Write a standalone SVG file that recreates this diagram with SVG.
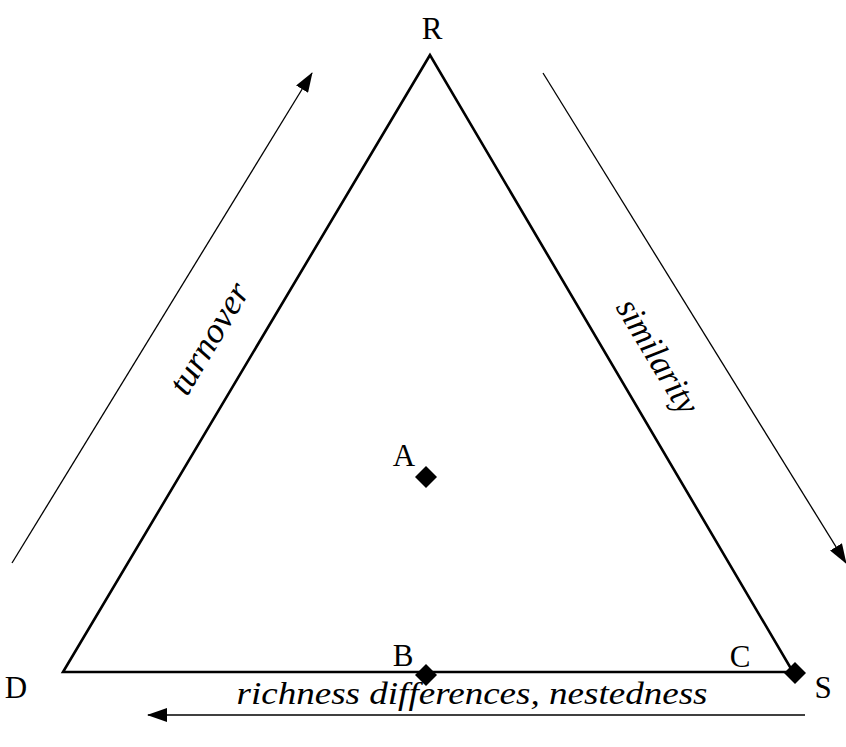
<svg xmlns="http://www.w3.org/2000/svg" width="846" height="747" viewBox="0 0 846 747">
<style>
.lbl{font-family:"Liberation Serif","Times New Roman",serif;font-size:31px;fill:#000}
.it{font-family:"Liberation Serif","Times New Roman",serif;font-size:35px;font-style:italic;fill:#000}
.arr{stroke:#000;stroke-width:1.3;fill:none;marker-end:url(#ah)}
.dia{fill:#000}
</style>
<defs>
<marker id="ah" viewBox="0 0 20 14" refX="19" refY="7" markerWidth="20" markerHeight="14" markerUnits="userSpaceOnUse" orient="auto">
<path d="M0,0 L20,7 L0,14 z" fill="#000"/>
</marker>
</defs>
<g id="triangle">
<path d="M430,55 L63,672 L793,672 Z" fill="none" stroke="#000" stroke-width="2.6" stroke-linejoin="miter"/>
</g>
<g id="connectors">
<line class="arr" x1="12" y1="563" x2="312" y2="73"/>
<line class="arr" x1="543" y1="73" x2="846" y2="563"/>
<line class="arr" x1="805" y1="715" x2="148" y2="715"/>
</g>
<g id="node-R"><text class="lbl" x="432" y="39" text-anchor="middle">R</text></g>
<g id="node-D"><text class="lbl" x="16" y="698" text-anchor="middle">D</text></g>
<g id="node-S"><text class="lbl" x="823" y="698" text-anchor="middle">S</text></g>
<g id="node-A">
<text class="lbl" x="404" y="466" text-anchor="middle">A</text>
<path class="dia" d="M426,466 L437,477 L426,488 L415,477 Z"/>
</g>
<g id="node-B">
<text class="lbl" x="403" y="666" text-anchor="middle">B</text>
<path class="dia" d="M426,664 L437,675 L426,686 L415,675 Z"/>
</g>
<g id="node-C">
<text class="lbl" x="740" y="667" text-anchor="middle">C</text>
<path class="dia" d="M795,662 L806,673 L795,684 L784,673 Z"/>
</g>
<g id="label-turnover">
<text class="it" transform="translate(212,340) rotate(-59)" text-anchor="middle" dominant-baseline="middle" textLength="124" lengthAdjust="spacingAndGlyphs">turnover</text>
</g>
<g id="label-similarity">
<text class="it" transform="translate(655,358) rotate(59)" text-anchor="middle" dominant-baseline="middle" textLength="128" lengthAdjust="spacingAndGlyphs">similarity</text>
</g>
<g id="label-richness">
<text class="it" x="472" y="704" text-anchor="middle" textLength="471" lengthAdjust="spacingAndGlyphs" style="font-size:32px">richness differences, nestedness</text>
</g>
</svg>
